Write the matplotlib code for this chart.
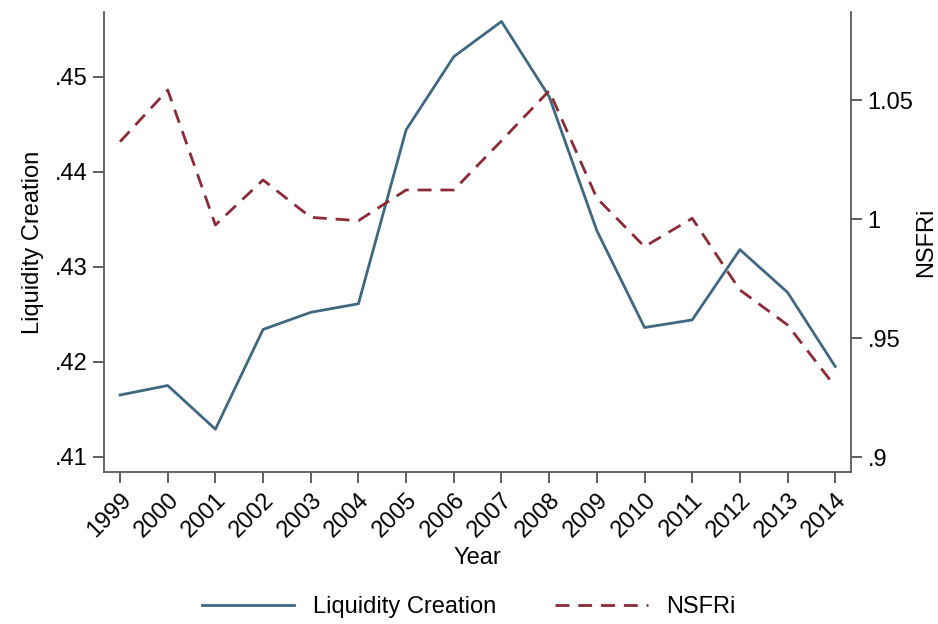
import matplotlib.pyplot as plt
import numpy as np

plt.rcParams['font.family'] = ['Liberation Sans', 'DejaVu Sans']

years = list(range(1999, 2015))
liquidity = [.4165, .4175, .4129, .4234, .4252, .4261, .4444, .4521,
             .4558, .4479, .4338, .4236, .4244, .4318, .4273, .4195]
nsfri = [1.0326, 1.0543, .9976, 1.0165, 1.0008, .9994, 1.0123, 1.0123,
         1.033, 1.054, 1.0089, .9885, 1.0004, .9703, .9556, .9297]

left_ticks = [.41, .42, .43, .44, .45]
left_labels = ['.41', '.42', '.43', '.44', '.45']
right_ticks = [.9, .95, 1.0, 1.05]
right_labels = ['.9', '.95', '1', '1.05']

blue = '#3f6882'
red = '#8c2a36'
spine_col = '#5a5a5a'

fig = plt.figure(figsize=(9.38, 6.24), dpi=100)
ax = fig.add_axes([0.1112, 0.2436, 0.796, 0.7372])
ax2 = ax.twinx()

l1, = ax.plot(years, liquidity, color=blue, linewidth=2, label='Liquidity Creation')
l2, = ax2.plot(years, nsfri, color=red, linewidth=2, dashes=(5, 3.2), label='NSFRi')

ax.set_xlim(1998.67, 2014.33)
ax.set_ylim(.4084, .4568)
ax2.set_ylim(.8938, 1.0871)

ax.set_xticks(years)
ax.set_xticklabels([str(y) for y in years], rotation=45, ha='right',
                   rotation_mode='anchor', fontsize=17)
ax.set_yticks(left_ticks)
ax.set_yticklabels(left_labels, fontsize=17)
ax2.set_yticks(right_ticks)
ax2.set_yticklabels(right_labels, fontsize=17)

for a in (ax, ax2):
    a.spines['top'].set_visible(False)
    for s in ('left', 'right', 'bottom'):
        a.spines[s].set_color(spine_col)
        a.spines[s].set_linewidth(1.3)
    a.tick_params(direction='out', length=8, width=1.1, color='#333333', pad=4)

ax.spines['right'].set_visible(False)
ax2.spines['left'].set_visible(False)
ax2.spines['bottom'].set_visible(False)

ax.set_xlabel('Year', fontsize=17, labelpad=4)
ax.set_ylabel('Liquidity Creation', fontsize=17, labelpad=8)
ax2.set_ylabel('NSFRi', fontsize=17, labelpad=1)

fig.legend(handles=[l1, l2], loc='center', bbox_to_anchor=(0.5, 0.027),
           ncol=2, frameon=False, fontsize=17, handlelength=3.9,
           columnspacing=2.5, handletextpad=0.8)

fig.savefig('out.png', dpi=100)
